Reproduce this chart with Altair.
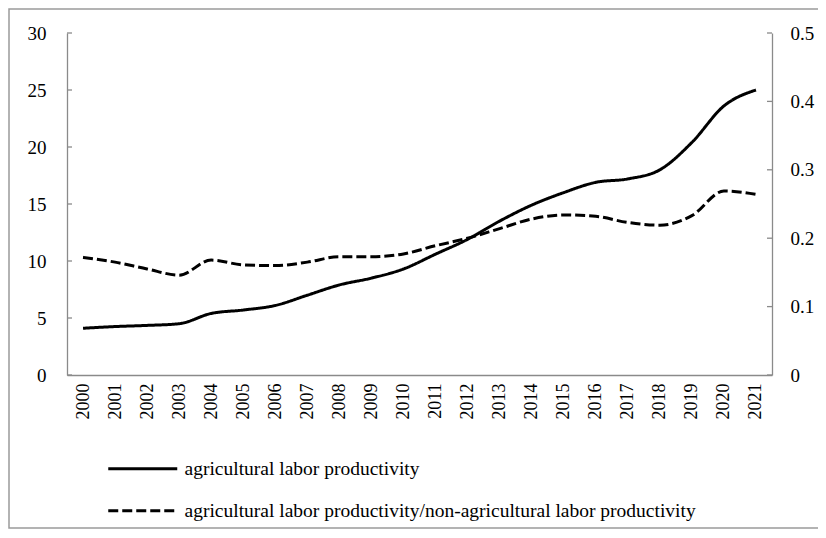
import altair as alt
import pandas as pd

# ---- data ----
years = ["2000", "2001", "2002", "2003", "2004", "2005", "2006", "2007", "2008", "2009", "2010",
         "2011", "2012", "2013", "2014", "2015", "2016", "2017", "2018", "2019", "2020", "2021"]
productivity = [4.1, 4.25, 4.35, 4.5, 5.4, 5.7, 6.1, 7.0, 7.9, 8.5, 9.3,
                10.6, 11.9, 13.5, 14.9, 16.0, 16.9, 17.2, 18.0, 20.4, 23.6, 25.0]
ratio = [0.172, 0.165, 0.155, 0.146, 0.168, 0.161, 0.160, 0.165, 0.173, 0.173, 0.177,
         0.189, 0.200, 0.214, 0.228, 0.234, 0.232, 0.223, 0.219, 0.233, 0.269, 0.264]
series_names = ["agricultural labor productivity",
                "agricultural labor productivity/non-agricultural labor productivity"]
left_ticks = [0, 5, 10, 15, 20, 25, 30]
right_ticks = [0, 0.1, 0.2, 0.3, 0.4, 0.5]

W, H = 705, 342
FONT = "Liberation Serif"
GRAY = "#8a8a8a"

df = pd.DataFrame({
    "year": years * 2,
    "value": productivity + ratio,
    "series": [series_names[0]] * len(years) + [series_names[1]] * len(years),
})

dash_scale = alt.Scale(domain=series_names, range=[[1, 0], [10, 4]])
x_scale = alt.Scale(type="point", padding=0.5)
x_axis = alt.Axis(title=None, labelAngle=270, ticks=False, labelPadding=8,
                  domainColor=GRAY, domainWidth=1.3, labelFontSize=18)

left_scale = alt.Scale(domain=[0, 30], nice=False, zero=True)
right_scale = alt.Scale(domain=[0, 0.5], nice=False, zero=True)
left_axis = alt.Axis(title=None, orient="left", values=left_ticks, ticks=False,
                     labelPadding=21, domainColor=GRAY, domainWidth=1.3, grid=False)
right_axis = alt.Axis(title=None, orient="right", values=right_ticks, ticks=False,
                      format="~g", labelPadding=18, domainColor=GRAY,
                      domainWidth=1.3, grid=False)

legend = alt.Legend(title=None, orient="none", legendX=66, legendY=426,
                    symbolType="M-6.9,0H6.9", symbolSize=100, symbolStrokeWidth=3,
                    symbolStrokeColor="black", labelFont=FONT, labelFontSize=19.5,
                    labelOffset=32, labelLimit=900, rowPadding=21, padding=0,
                    direction="vertical")

base = alt.Chart(df)

line_left = base.transform_filter(alt.datum.series == series_names[0]).mark_line(
    color="black", strokeWidth=3, interpolate="monotone"
).encode(
    x=alt.X("year:O", scale=x_scale, axis=x_axis),
    y=alt.Y("value:Q", scale=left_scale, axis=left_axis),
    strokeDash=alt.StrokeDash("series:N", scale=dash_scale, legend=legend),
)

tick_left = alt.Chart(pd.DataFrame({"v": left_ticks})).mark_rule(color=GRAY, strokeWidth=1.3).encode(
    y=alt.Y("v:Q", scale=left_scale, axis=left_axis),
    x=alt.value(0), x2=alt.value(5),
)

line_right = base.transform_filter(alt.datum.series == series_names[1]).mark_line(
    color="black", strokeWidth=3, interpolate="monotone"
).encode(
    x=alt.X("year:O", scale=x_scale, axis=x_axis),
    y=alt.Y("value:Q", scale=right_scale, axis=right_axis),
    strokeDash=alt.StrokeDash("series:N", scale=dash_scale, legend=legend),
)

tick_right = alt.Chart(pd.DataFrame({"v": right_ticks})).mark_rule(color=GRAY, strokeWidth=1.3).encode(
    y=alt.Y("v:Q", scale=right_scale, axis=right_axis),
    x=alt.value(W - 5), x2=alt.value(W),
)

frame = alt.Chart(alt.Data(values=[{}])).mark_rect(
    fill="transparent", stroke="#9a9a9a", strokeWidth=1.5
).encode(
    x=alt.value(-58), x2=alt.value(W + 300), y=alt.value(-24), y2=alt.value(H + 153),
)

left = alt.layer(line_left, tick_left)
right = alt.layer(line_right, tick_right)

chart = alt.layer(frame, left, right).resolve_scale(y="independent").properties(
    width=W, height=H,
    padding={"left": 59, "top": 25, "right": 46, "bottom": 155},
    autosize=alt.AutoSizeParams(type="none"),
    background="white",
).configure_view(stroke=None).configure_axis(
    labelFont=FONT, labelFontSize=19, labelColor="black",
)

chart.save("out.html", embed_options={"renderer": "svg", "actions": False})
